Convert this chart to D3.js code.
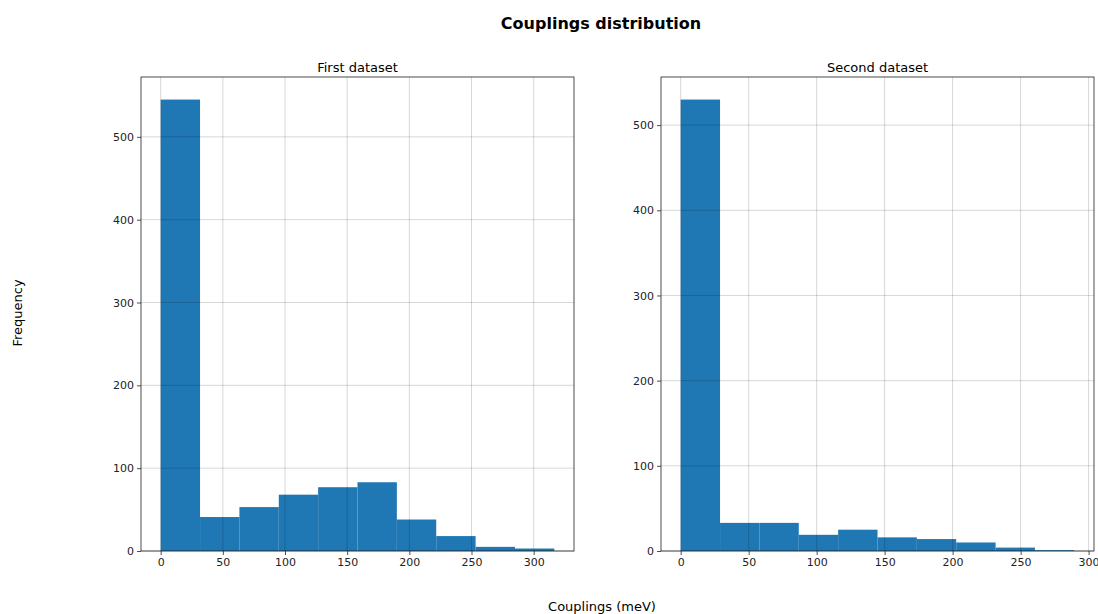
<!DOCTYPE html>
<html>
<head>
<meta charset="utf-8">
<script src="https://cdn.jsdelivr.net/npm/d3@7"></script>
<style>
  body { margin: 0; background: #fff; }
  svg { display: block; font-family: "DejaVu Sans", sans-serif; }
</style>
</head>
<body>
<svg id="chart" width="1098" height="614"></svg>
<script>
// Histogram counts per bin (10 equal-width bins from 0 to the max coupling)
const firstMax = 316.6;
const firstCounts = [545, 41, 53, 68, 77, 83, 38, 18, 5, 3];
const secondMax = 289.5;
const secondCounts = [530, 33, 33, 19, 25, 16, 14, 10, 4, 1];

const xTicks = [0, 50, 100, 150, 200, 250, 300];
const yTicks = [0, 100, 200, 300, 400, 500];

const panels = [
  { title: "First dataset", max: firstMax, counts: firstCounts, left: 141, right: 574 },
  { title: "Second dataset", max: secondMax, counts: secondCounts, left: 661, right: 1094 }
];

const svg = d3.select("#chart");
const plotTop = 77, plotBottom = 551;

svg.append("text")
  .attr("x", 601).attr("y", 29)
  .attr("text-anchor", "middle")
  .attr("font-size", 16).attr("font-weight", "bold")
  .text("Couplings distribution");

svg.append("text")
  .attr("transform", "translate(22,313) rotate(-90)")
  .attr("text-anchor", "middle")
  .attr("font-size", 13)
  .text("Frequency");

svg.append("text")
  .attr("x", 602).attr("y", 611)
  .attr("text-anchor", "middle")
  .attr("font-size", 13)
  .text("Couplings (meV)");

panels.forEach(p => {
  const n = p.counts.length;
  const w = p.max / n;
  const bins = p.counts.map((c, i) => ({ x0: i * w, x1: (i + 1) * w, c }));
  const xPad = p.max * 0.05;
  const yMax = d3.max(p.counts) * 1.05;

  const x = d3.scaleLinear().domain([-xPad, p.max + xPad]).range([p.left, p.right]);
  const y = d3.scaleLinear().domain([0, yMax]).range([plotBottom, plotTop]);

  const g = svg.append("g");

  // bars
  g.selectAll("rect.bar").data(bins).join("rect")
    .attr("class", "bar")
    .attr("x", d => x(d.x0))
    .attr("y", d => y(d.c))
    .attr("width", d => x(d.x1) - x(d.x0))
    .attr("height", d => y(0) - y(d.c))
    .attr("fill", "#1f77b4");

  // grid drawn above the bars
  const grid = g.append("g").attr("stroke", "#000").attr("stroke-opacity", 0.2).attr("stroke-width", 0.8);
  grid.selectAll("line.gx").data(xTicks.filter(t => t <= p.max + xPad)).join("line")
    .attr("x1", d => x(d)).attr("x2", d => x(d))
    .attr("y1", plotTop).attr("y2", plotBottom);
  grid.selectAll("line.gy").data(yTicks.filter(t => t <= yMax)).join("line")
    .attr("x1", p.left).attr("x2", p.right)
    .attr("y1", d => y(d)).attr("y2", d => y(d));

  // axes
  const xAxis = d3.axisBottom(x).tickValues(xTicks.filter(t => t <= p.max + xPad)).tickSize(4).tickPadding(3);
  const yAxis = d3.axisLeft(y).tickValues(yTicks.filter(t => t <= yMax)).tickSize(4).tickPadding(3);

  const gx = g.append("g").attr("transform", `translate(0,${plotBottom})`).call(xAxis);
  const gy = g.append("g").attr("transform", `translate(${p.left},0)`).call(yAxis);
  [gx, gy].forEach(a => {
    a.select(".domain").remove();
    a.selectAll("text").attr("font-size", 11).attr("font-family", "DejaVu Sans, sans-serif").attr("fill", "#222");
    a.selectAll("line").attr("stroke", "#222").attr("stroke-width", 0.8);
  });

  // frame
  g.append("rect")
    .attr("x", p.left).attr("y", plotTop)
    .attr("width", p.right - p.left).attr("height", plotBottom - plotTop)
    .attr("fill", "none").attr("stroke", "#222").attr("stroke-width", 0.8);

  svg.append("text")
    .attr("x", (p.left + p.right) / 2).attr("y", 72)
    .attr("text-anchor", "middle")
    .attr("font-size", 13)
    .text(p.title);
});
</script>
</body>
</html>
